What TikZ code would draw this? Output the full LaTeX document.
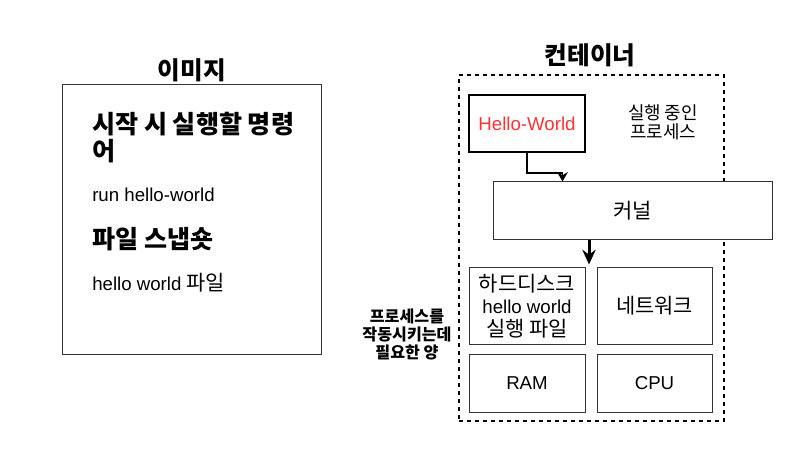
\documentclass[tikz,border=0pt]{standalone}
\usepackage{fontspec}
\setmainfont{Liberation Sans}
\newfontfamily\kr[Scale=1.12]{Noto Sans CJK KR}
\usepackage{tikz}
\usetikzlibrary{arrows.meta, positioning, calc}
\definecolor{boxline}{RGB}{51, 51, 51}
\definecolor{procred}{RGB}{255, 51, 51}
\newlength{\px}
\setlength{\px}{0.75pt}

\begin{document}
\begin{tikzpicture}[
    x=0.75pt, y=-0.75pt,
    every node/.style={font=\fontsize{14}{17}\selectfont},
    part/.style={rectangle, draw=boxline, line width=1\px, fill=white, align=center},
    heading/.style={font=\kr\bfseries\fontsize{16.5}{20}\selectfont},
    body/.style={anchor=west, inner sep=0pt, align=left},
    container/.style={draw=black, line width=2\px, dash pattern=on 4\px off 4\px},
    arrow/.style={-{Stealth[length=7pt, width=8pt]}, line width=1.5\px},
    bigarrow/.style={-{Stealth[length=11pt, width=10pt]}, line width=3\px}
]
\useasboundingbox (0,0) rectangle (786,474);

% image
\node[part, minimum width=259\px, minimum height=269\px] (image) at (191.5,219.5) {};
\node[heading] (imagetitle) at (192,70) {이미지};
\node[body, font=\kr\bfseries\fontsize{16.8}{20.5}\selectfont] (cmdhead) at (92,137.5) {시작 시 실행할 명령\\어};
\node[body] (cmd) at (92,195) {run hello-world};
\node[body, font=\kr\bfseries\fontsize{16.8}{20}\selectfont] (snaphead) at (92,239) {파일 스냅숏};
\node[body] (snap) at (92,283) {hello world {\kr 파일}};

% container
\node[container, minimum width=265\px, minimum height=346\px] (box) at (591.5,248) {};
\node[heading] (boxtitle) at (590,55) {컨테이너};
\node[part, draw=black, line width=2\px, minimum width=116\px, minimum height=57\px, text=procred] (hello) at (527,123.5) {Hello-World};
\node[align=center, font=\kr\fontsize{12}{14.5}\selectfont] (running) at (663,122) {실행 중인\\프로세스};
\node[part, minimum width=279\px, minimum height=58\px] (kernel) at (632.5,211) {\kr 커널};
\node[part, minimum width=116\px, minimum height=76\px, font=\fontsize{14}{17}\selectfont] (disk) at (527,306) {{\kr 하드디스크}\\hello world\\{\kr 실행 파일}};
\node[part, minimum width=115\px, minimum height=76\px] (net) at (654.5,306) {\kr 네트워크};
\node[part, minimum width=116\px, minimum height=58\px] (ram) at (527,383) {RAM};
\node[part, minimum width=115\px, minimum height=58\px] (cpu) at (654.5,383) {CPU};
\node[align=center, font=\kr\bfseries\fontsize{10.8}{13.5}\selectfont] (amount) at (407,334.5) {프로세스를\\작동시키는데\\필요한 양};

\coordinate (tip) at (589,0);
\draw[arrow] (hello.south) -- ++(0,20) -| ($(kernel.north west)+(70,0)$);
\draw[bigarrow] (kernel.south -| tip) -- ($(disk.north -| tip)+(0,-3)$);
\end{tikzpicture}
\end{document}
